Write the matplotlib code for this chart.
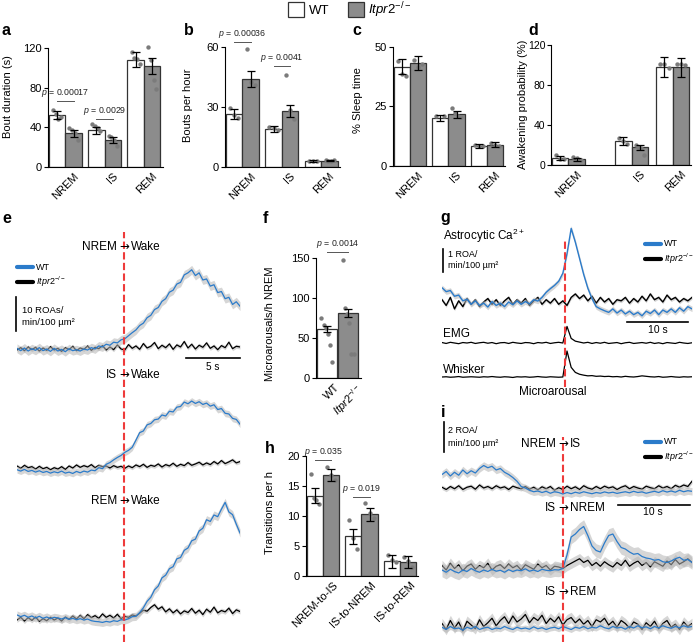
import numpy as np
import matplotlib
matplotlib.use('Agg')
import matplotlib.pyplot as plt
from matplotlib.patches import Rectangle
from matplotlib.lines import Line2D

plt.rcParams['font.family'] = ['Liberation Sans', 'DejaVu Sans']
plt.rcParams['mathtext.fontset'] = 'custom'
plt.rcParams['mathtext.rm'] = 'Liberation Sans'
plt.rcParams['mathtext.it'] = 'Liberation Sans:italic'
plt.rcParams['mathtext.bf'] = 'Liberation Sans:bold'
plt.rcParams['axes.linewidth'] = 0.8

# ======================= DATA =======================
KO_LABEL = r'$\mathit{Itpr2}^{-/-}$'
stages = ['NREM', 'IS', 'REM']
transitions = ['NREM-to-IS', 'IS-to-NREM', 'IS-to-REM']
genotypes = ['WT', KO_LABEL]

# a: bout duration (s)
a_wt = [52, 37, 108]
a_wt_err = [4, 3.5, 7.5]
a_ko = [34, 27, 102]
a_ko_err = [3.5, 3, 8]
a_wt_dots = [[57.5, 53, 48, 50], [43, 41, 39, 36], [116, 110, 109, 104]]
a_ko_dots = [[39.6, 37, 34, 27], [31, 30, 27, 21], [121, 108, 88, 79]]

# b: bouts per hour
b_wt = [26.5, 19, 3]
b_wt_err = [2.5, 1.5, 0.5]
b_ko = [44, 28, 3.2]
b_ko_err = [3.8, 3, 0.4]
b_wt_dots = [[29.3, 26, 24.3], [20, 19.5, 18.5], [3.2, 3.0, 2.8]]
b_ko_dots = [[58.8, 42.6, 41], [45.8, 28.5, 24], [3.4, 3.2, 3.0, 3.3]]

# c: % sleep time
c_wt = [41.8, 20.3, 8.5]
c_wt_err = [3.2, 1.3, 0.8]
c_ko = [43.2, 21.7, 9.0]
c_ko_err = [3.0, 1.5, 0.9]
c_wt_dots = [[44, 38.5, 38], [21, 20.8], [9, 8.5, 8.3]]
c_ko_dots = [[44.5, 41.5, 43], [24.5, 22.3, 21, 20.5], [9.8, 9, 8.5]]

# d: awakening probability (%)
d_wt = [7, 24, 98]
d_wt_err = [2, 4, 10]
d_ko = [6, 18, 98]
d_ko_err = [1.5, 2.5, 9.5]
d_wt_dots = [[10, 6.5, 6], [27, 24, 21], [101, 101, 97]]
d_ko_dots = [[8, 7, 5.5], [20, 18, 17, 10], [101, 101, 100]]

# f: microarousals / h NREM
f_vals = [61, 81]
f_err = [4, 5]
f_dots = [[75, 66, 62, 55, 41, 20], [148, 88, 80, 69, 30, 30]]

# h: transitions per h
h_wt = [13.4, 6.6, 2.45]
h_wt_err = [1.2, 1.2, 1.1]
h_ko = [16.8, 10.3, 2.3]
h_ko_err = [1.0, 1.1, 1.0]
h_wt_dots = [[17, 13, 12.7, 12], [9.3, 6.3, 4.5], [3.5, 2.7, 2.4]]
h_ko_dots = [[18.2, 16.8, 16], [12.2, 10.5, 9.7], [3.2, 2.5, 1.5]]

# p-values: (group, y of line, text)
a_p = [(0, 66.5, '0.00017'), (1, 48.4, '0.0029')]
b_p = [(0, 62.6, '0.00036'), (1, 50.5, '0.0041')]
f_p = [(0, 157.5, '0.0014')]
h_p = [(0, 19.3, '0.035'), (1, 13.2, '0.019')]

# e: ROAs/min/100 um^2 relative to pre-transition baseline, time -9.9..10.7 s
e_nrem_wt = [0.2, -0.5, 0.3, -0.6, 0.1, -0.4, 0.4, -0.5, 0.0, -0.7, 0.2, -0.6, -0.1, -0.8, 0.1, -0.5, -0.2, -0.6, 0.0, -0.3,
             0.4, 0.0, 0.9, 0.6, 1.4, 1.1, 2.0, 1.8, 2.7, 3.0,
             3.9, 4.8, 5.6, 6.9, 7.6, 9.2, 9.9, 11.6, 12.2, 14.0, 14.8, 16.7, 17.3, 19.1, 19.6, 21.8, 22.4, 23.3, 21.6, 22.4,
             20.3, 20.6, 18.5, 18.9, 16.6, 16.9, 14.8, 15.2, 13.1, 13.9, 12.6]
e_nrem_ko = [-0.3, 0.4, -0.5, 0.6, -0.2, 0.5, -0.6, 0.3, -0.4, 0.7, -0.3, 0.2, -0.7, 0.4, -0.2, 0.8, -0.5, 0.3, -0.1, 0.9,
             -0.4, 0.5, 0.1, 1.0, -0.3, 0.6, -0.2, 1.2, 0.0, -0.3, 1.3, 0.2, 0.9, -0.1, 1.6, 0.3, 0.8, 1.9, 0.1, 1.1,
             0.4, 1.5, -0.1, 1.2, 0.6, 2.2, 0.3, 1.4, 0.0, 1.1, 0.5, 1.8, 0.2, 0.9, -0.2, 1.0, 0.4, 2.0, 0.1, 0.8, 0.6]
e_is_wt = [-0.8, -1.2, -0.7, -1.3, -1.0, -1.5, -1.1, -1.6, -1.3, -1.8, -1.4, -1.7, -1.2, -1.8, -1.5, -1.9, -1.3, -1.7, -1.2, -1.5,
           -0.9, -1.1, -0.2, -0.5, 0.8, 1.3, 2.1, 2.8, 3.4, 4.3,
           4.9, 5.8, 7.9, 10.1, 10.6, 12.4, 12.8, 13.9, 14.1, 15.3, 15.0, 16.4, 16.2, 17.6, 17.8, 19.1, 18.6, 19.4, 18.7, 19.2,
           18.4, 18.8, 17.9, 18.3, 16.9, 17.2, 15.8, 15.6, 14.3, 14.0, 12.6]
e_is_ko = [0.3, -0.4, 0.5, -0.2, 0.1, -0.6, 0.2, -0.5, -0.1, -0.8, -0.2, -0.6, 0.1, -0.7, 0.3, -0.3, 0.6, -0.1, 0.4, 0.0,
           0.7, -0.2, 0.5, 0.1, 0.3, -0.3, 0.4, -0.1, 0.2, -0.4, 0.3, -0.2, 0.6, 0.1, 0.8, -0.1, 0.5, 0.2, 0.9, 0.0,
           0.7, 0.3, 1.1, 0.2, 0.8, 0.4, 1.3, 0.5, 0.9, 1.4, 0.6, 1.2, 0.7, 1.6, 0.9, 1.9, 1.0, 1.5, 2.1, 1.2, 1.6]
e_rem_wt = [0.9, 0.4, 0.8, 0.2, 0.6, 0.0, 0.5, -0.1, 0.3, -0.2, 0.2, 0.0, -0.3, 0.1, -0.4, -0.1, -0.5, -0.2, -0.6, -0.3,
            -0.8, -1.0, -1.1, -1.3, -1.0, -1.2, -0.8, -1.0, -0.5, -0.6,
            -0.2, 0.4, 0.5, 1.6, 3.0, 4.9, 6.1, 8.3, 9.4, 11.8, 12.6, 14.5, 15.1, 17.4, 17.8, 19.9, 20.6, 22.7, 23.2, 25.6,
            26.4, 28.9, 28.4, 30.3, 29.8, 32.0, 34.0, 31.2, 30.4, 27.6, 25.0]
e_rem_ko = [-0.6, 0.2, -0.9, 0.1, -0.7, 0.3, -1.0, -0.2, -0.8, 0.2, -0.6, 0.0, -0.9, 0.3, -0.4, 0.6, -0.3, 0.8, -0.2, 1.0,
            0.1, 0.7, -0.1, 1.2, 0.2, 0.8, 0.0, 1.1, -0.2, 0.5,
            0.2, 0.9, 0.6, 1.4, 2.3, 2.0, 3.1, 3.9, 2.6, 3.3, 1.8, 2.7, 1.5, 2.4, 1.2, 2.1, 1.6, 2.8, 1.4, 2.3,
            1.0, 2.6, 1.7, 3.2, 1.5, 2.2, 1.8, 2.9, 1.3, 2.4, 1.9]
e_sem = {'wt': [1.3, 1.0, 1.2], 'ko': [0.6, 0.6, 0.7]}

# g: microarousal-triggered traces, time -20.2..20.8 s
g_ca_wt = [0.62, 0.45, 0.5, 0.25, 0.3, 0.05, 0.12, -0.1, 0.05, -0.15, -0.05, -0.22, 0.02, -0.15, -0.05, -0.2, 0.0, -0.12, 0.05, -0.1,
           0.02, -0.08, 0.1, 0.04, 0.2, 0.42, 0.58, 0.72, 0.9, 1.25, 2.1, 3.2, 2.6, 1.9, 1.2, 0.6, 0.15, -0.2, -0.3, -0.38,
           -0.45, -0.3, -0.48, -0.35, -0.52, -0.4, -0.55, -0.45, -0.6, -0.4, -0.5, -0.35, -0.55, -0.35, -0.45, -0.3, -0.45, -0.25, -0.4, -0.2, -0.3]
g_ca_ko = [0.1, -0.15, 0.2, -0.3, 0.05, -0.2, 0.15, -0.1, 0.1, -0.2, 0.0, 0.15, -0.1, 0.1, -0.15, 0.05, 0.2, -0.1, 0.1, -0.05,
           0.15, -0.15, 0.05, 0.2, -0.1, 0.1, -0.05, 0.15, -0.1, 0.05, -0.15, 0.2, 0.35, 0.15, 0.3, 0.05, 0.25, -0.05, 0.2, 0.0,
           0.15, -0.1, 0.1, 0.05, 0.2, -0.05, 0.15, 0.0, 0.25, 0.05, 0.35, 0.1, 0.2, 0.0, 0.3, 0.1, 0.2, 0.0, 0.15, 0.05, 0.2]
g_emg = [0.02, -0.02, 0.03, 0.0, -0.03, 0.02, 0.0, 0.03, -0.02, 0.01, 0.03, -0.01, 0.02, -0.03, 0.01, 0.02, -0.02, 0.03, 0.0, -0.02,
         0.02, 0.01, -0.03, 0.02, 0.0, 0.03, -0.02, 0.01, 0.03, 0.0, 0.72, 0.2, 0.08, 0.04, 0.0, 0.03, -0.02, 0.02, -0.01, 0.03,
         -0.02, 0.0, 0.02, -0.03, 0.01, 0.03, -0.02, 0.0, 0.02, -0.01, 0.03, -0.02, 0.01, -0.03, 0.02, 0.0, -0.02, 0.03, 0.0, -0.02, 0.01]
g_whisker = [0.0, 0.01, -0.01, 0.0, 0.02, -0.01, 0.0, 0.01, 0.0, -0.01, 0.01, 0.0, 0.02, 0.0, -0.01, 0.01, 0.0, -0.02, 0.01, 0.0,
             0.01, -0.01, 0.0, 0.02, 0.0, -0.01, 0.01, 0.0, -0.01, 0.0, 1.13, 0.42, 0.2, 0.12, 0.08, 0.05, 0.06, 0.03, 0.04, 0.02,
             0.03, 0.01, 0.02, 0.0, 0.03, 0.01, 0.0, 0.02, 0.05, 0.03, 0.01, 0.0, 0.02, -0.01, 0.0, 0.02, 0.0, -0.01, 0.01, 0.0, 0.01]
g_sem = {'wt': 0.12, 'ko': 0.08}

# i: sleep-state transition traces, time -16.8..17.9 s
i_nrem_is_wt = [0.9, 1.1, 0.8, 1.05, 0.85, 1.2, 0.95, 1.15, 1.0, 1.3, 1.5, 1.35, 1.45, 1.2, 1.3, 1.05, 0.9, 0.7, 0.45, 0.1,
                0.0, -0.15, -0.25, -0.2, -0.3, -0.22, -0.35, -0.25, -0.3, -0.4, -0.3, -0.38, -0.28, -0.35, -0.25, -0.32, -0.38, -0.3, -0.35, -0.26,
                -0.33, -0.28, -0.36, -0.3, -0.25, -0.32, -0.22, -0.3, -0.26, -0.35, -0.28, -0.22, -0.3, -0.18, -0.27, -0.2, -0.28, -0.15, -0.25, -0.18, -0.22]
i_nrem_is_ko = [0.05, -0.1, 0.1, -0.05, 0.15, -0.1, 0.05, 0.12, -0.08, 0.2, 0.0, 0.1, -0.05, 0.15, 0.0, 0.08, -0.1, 0.12, 0.02, -0.05,
                0.1, -0.08, 0.05, -0.12, 0.08, -0.05, 0.1, -0.15, 0.02, -0.1, 0.12, -0.05, 0.08, -0.1, 0.15, 0.0, -0.08, 0.1, -0.05, 0.12,
                0.0, 0.08, -0.1, 0.05, 0.15, -0.05, 0.1, 0.0, -0.08, 0.12, 0.02, -0.05, 0.15, 0.0, 0.1, -0.05, 0.18, 0.05, 0.2, 0.1, 0.45]
i_is_nrem_wt = [-0.2, -0.35, -0.15, -0.3, -0.4, -0.2, -0.3, -0.1, -0.25, -0.35, -0.2, -0.3, -0.15, -0.28, -0.22, -0.35, -0.18, -0.3, -0.2, -0.25,
                -0.12, -0.28, -0.2, -0.3, -0.15, -0.22, -0.25, -0.18, -0.2,
                -0.1, 0.8, 2.0, 2.2, 2.5, 2.7, 2.1, 1.4, 1.1, 1.0, 1.6, 2.1, 2.2, 1.7, 1.3, 1.2, 1.0, 0.85, 0.9, 0.7,
                0.6, 0.55, 0.45, 0.5, 0.35, 0.3, 0.4, 0.55, 0.65, 0.45, 0.5, 0.3]
i_is_nrem_ko = [0.1, -0.2, 0.25, -0.1, 0.15, -0.25, 0.05, 0.2, -0.15, 0.1, -0.05, 0.25, -0.2, 0.05, 0.15, -0.1, 0.2, -0.05, 0.1, -0.2,
                0.15, 0.0, -0.15, 0.2, -0.05, 0.1, -0.2, 0.05, 0.0, -0.1, 0.1, 0.25, 0.4, 0.55, 0.3, 0.45, 0.1, 0.3, 0.05, 0.35,
                0.15, 0.0, 0.3, 0.1, 0.45, 0.05, 0.25, 0.4, 0.1, 0.3, 0.0, 0.35, 0.2, 0.05, 0.4, 0.15, 0.5, 0.2, 0.35, 0.55, 0.3]
i_is_rem_wt = [-0.15, -0.3, -0.1, -0.25, -0.2, -0.35, -0.15, -0.25, -0.1, -0.3, -0.2, -0.15, -0.3, -0.2, -0.25, -0.1, -0.22, -0.3, -0.15, -0.25,
               -0.2, -0.28, -0.12, -0.25, -0.18, -0.3, -0.2, -0.15, -0.25, -0.1, -0.2, -0.3, -0.15, -0.22, -0.1, -0.25, -0.15, -0.2, -0.05, -0.18,
               -0.25, -0.1, -0.2, -0.15, -0.28, -0.1, -0.2, -0.05, -0.18, -0.12, -0.25, -0.1, -0.2, -0.05, -0.15, -0.22, -0.1, -0.18, -0.05, -0.15, -0.1]
i_is_rem_ko = [0.1, -0.3, 0.3, -0.2, 0.2, -0.4, 0.25, 0.0, -0.25, 0.35, -0.1, 0.15, 0.45, -0.05, 0.3, 0.55, 0.1, 0.6, 0.2, 0.4,
               0.7, 0.15, 0.5, 0.3, 0.65, 0.1, 0.45, 0.2, 0.55, 0.0, 0.35, 0.5, 0.15, 0.4, 0.05, 0.3, -0.1, 0.35, 0.2, 0.45,
               0.0, 0.25, -0.15, 0.3, 0.1, -0.2, 0.2, 0.05, -0.3, 0.15, -0.1, 0.25, -0.25, 0.1, 0.3, -0.15, 0.05, -0.3, 0.2, -0.1, 0.1]
i_sem = {'wt': [0.25, 0.45, 0.2], 'ko': [0.15, 0.35, 0.35]}

# ======================= STYLE / LAYOUT =======================
W, H = 697, 642
BLUE = '#2b7bca'
RED = '#ee3b3b'
GRAY = '#8c8c8c'
EDGE = '#333333'
DOT = '#7b7b7b'
BAND = '#b5b5b5'

fig = plt.figure(figsize=(W / 100, H / 100), dpi=100)


def px_axes(x0, y0, x1, y1):
    return fig.add_axes([x0 / W, 1 - y1 / H, (x1 - x0) / W, (y1 - y0) / H])


def ftext(x, y, s, **kw):
    kw.setdefault('va', 'baseline')
    return fig.text(x / W, 1 - y / H, s, **kw)


def fline(xs, ys, **kw):
    fig.add_artist(Line2D([x / W for x in xs], [1 - y / H for y in ys], transform=fig.transFigure, **kw))


def bar_panel(x0, ytop, ybot, pxu, centers, xlim, bw, wt, wt_err, ko, ko_err, wt_dots, ko_dots,
              ylim, yticks, xlabels, pvals=(), tick_shift=0.2, ytick_size=8, ytick_pad=1.5):
    x1 = x0 + (xlim[1] - xlim[0]) * pxu
    ax = px_axes(x0, ytop, x1, ybot)
    c = np.asarray(centers, float)
    xw, xk = c - bw / 2, c + bw / 2
    ax.bar(xw, wt, bw, color='white', edgecolor=EDGE, linewidth=0.9, zorder=1)
    ax.bar(xk, ko, bw, color=GRAY, edgecolor=EDGE, linewidth=0.9, zorder=1)
    for xs, dots in ((xw, wt_dots), (xk, ko_dots)):
        for x, d in zip(xs, dots):
            off = np.linspace(-0.25, 0.25, len(d)) * bw
            ax.scatter(x + off, d, s=10, color=DOT, zorder=2, linewidths=0, clip_on=False)
    for xs, v, e in ((xw, wt, wt_err), (xk, ko, ko_err)):
        ax.errorbar(xs, v, yerr=e, fmt='none', ecolor='black', elinewidth=0.9, capsize=3, capthick=0.9, zorder=3)
    for g, yl, txt in pvals:
        ax.plot([xw[g], xk[g]], [yl, yl], color='#555555', lw=0.7, clip_on=False)
        ax.annotate(r'$p$ = ' + txt, (c[g], yl), xytext=(0, 1.5), textcoords='offset points',
                    ha='center', va='bottom', fontsize=6.3, color='#222222', annotation_clip=False)
    ax.set_xlim(xlim)
    ax.set_ylim(ylim)
    ax.set_yticks(yticks)
    ax.set_xticks(c + tick_shift)
    ax.set_xticklabels(xlabels, rotation=45, ha='right', rotation_mode='anchor')
    for s in ('top', 'right'):
        ax.spines[s].set_visible(False)
    ax.tick_params(axis='y', direction='out', length=3, width=0.8, labelsize=ytick_size, pad=ytick_pad)
    ax.tick_params(axis='x', length=0, labelsize=8, pad=3)
    return ax


# ---------- top legend ----------
fig.add_artist(Rectangle((288 / W, 1 - 17 / H), 16 / W, 15 / H, transform=fig.transFigure,
                         facecolor='white', edgecolor=EDGE, lw=0.9))
ftext(309, 14, 'WT', fontsize=9.5)
fig.add_artist(Rectangle((348 / W, 1 - 17 / H), 16 / W, 15 / H, transform=fig.transFigure,
                         facecolor=GRAY, edgecolor=EDGE, lw=0.9))
ftext(368, 14, KO_LABEL, fontsize=9.5)

# ---------- a-d ----------
bar_panel(48, 48, 167, 39.3, [0, 1, 2], (-0.44, 2.48), 0.42, a_wt, a_wt_err, a_ko, a_ko_err,
          a_wt_dots, a_ko_dots, (0, 120), [0, 40, 80, 120], stages, a_p)
bar_panel(225, 47, 167, 39.5, [0, 1, 2], (-0.44, 2.48), 0.42, b_wt, b_wt_err, b_ko, b_ko_err,
          b_wt_dots, b_ko_dots, (0, 60), [0, 30, 60], stages, b_p)
bar_panel(393, 47, 166, 38.5, [0, 1, 2], (-0.44, 2.48), 0.42, c_wt, c_wt_err, c_ko, c_ko_err,
          c_wt_dots, c_ko_dots, (0, 50), [0, 25, 50], stages)
bar_panel(551, 45, 165, 39.5, [0, 1.6, 2.64], (-0.44, 3.1), 0.42, d_wt, d_wt_err, d_ko, d_ko_err,
          d_wt_dots, d_ko_dots, (0, 120), [0, 40, 80, 120], stages, ytick_size=7.5, ytick_pad=1)

ftext(8, 97, 'Bout duration (s)', rotation=90, ha='center', va='center', fontsize=8)
ftext(188, 105, 'Bouts per hour', rotation=90, ha='center', va='center', fontsize=8)
ftext(358, 100, '% Sleep time', rotation=90, ha='center', va='center', fontsize=8)
ftext(523, 104, 'Awakening probability (%)', rotation=90, ha='center', va='center', fontsize=8)

# ---------- f ----------
axf = px_axes(316, 258, 361, 378)
axf.bar([0, 1], f_vals, 0.95, color=['white', GRAY], edgecolor=EDGE, linewidth=0.9, zorder=1)
for x, d in zip([0, 1], f_dots):
    axf.scatter(x + np.linspace(-0.25, 0.25, len(d)), d, s=10, color=DOT, zorder=2, linewidths=0, clip_on=False)
axf.errorbar([0, 1], f_vals, yerr=f_err, fmt='none', ecolor='black', elinewidth=0.9, capsize=3, capthick=0.9, zorder=3)
for g, yl, txt in f_p:
    axf.plot([0, 1], [yl, yl], color='#555555', lw=0.7, clip_on=False)
    axf.annotate(r'$p$ = ' + txt, (0.5, yl), xytext=(0, 1.5), textcoords='offset points',
                 ha='center', va='bottom', fontsize=6.3, color='#222222', annotation_clip=False)
axf.set_xlim(-0.5, 1.6)
axf.set_ylim(0, 150)
axf.set_yticks([0, 50, 100, 150])
axf.set_xticks([0.35, 1.35])
axf.set_xticklabels(genotypes, rotation=45, ha='right', rotation_mode='anchor')
for s in ('top', 'right'):
    axf.spines[s].set_visible(False)
axf.tick_params(axis='y', direction='out', length=3, width=0.8, labelsize=8, pad=1.5)
axf.tick_params(axis='x', length=0, labelsize=8, pad=3)
ftext(270, 324, 'Microarousals/h NREM', rotation=90, ha='center', va='center', fontsize=8)

# ---------- h ----------
bar_panel(306, 456, 576, 38.5, [0, 1, 2], (-0.44, 2.48), 0.42, h_wt, h_wt_err, h_ko, h_ko_err,
          h_wt_dots, h_ko_dots, (0, 20), [0, 5, 10, 15, 20], transitions, h_p, tick_shift=0.25)
ftext(270, 512, 'Transitions per h', rotation=90, ha='center', va='center', fontsize=8)


# ---------- trace helpers ----------
def trace_axes(x0, x1, y0, y1, t0, t1, ppu, base):
    ax = px_axes(x0, y0, x1, y1)
    ax.set_xlim(t0, t1)
    ax.set_ylim((base - y1) / ppu, (base - y0) / ppu)
    ax.axis('off')
    tx = lambda px: t0 + (px - x0) * (t1 - t0) / (x1 - x0)
    ty = lambda py: (base - py) / ppu
    return ax, tx, ty


def draw_trace(ax, t0, t1, vals, offset, color, sem, lw=0.9, z=2):
    v = np.asarray(vals, float)
    t = np.linspace(t0, t1, len(v))
    if sem:
        ax.fill_between(t, offset + v - sem, offset + v + sem, color=BAND, alpha=0.55, lw=0, zorder=z - 1)
    ax.plot(t, offset + v, color=color, lw=lw, zorder=z)


def trans_label(xr, y, left, right, size=8.5):
    ftext(xr - 7, y, left, ha='right', fontsize=size)
    ftext(xr, y, '→', ha='center', fontsize=size, family='DejaVu Sans')
    ftext(xr + 7, y, right, ha='left', fontsize=size)


def mini_legend(x, y1, y2, size=6.5):
    fline([x, x + 16], [y1, y1], color=BLUE, lw=3, solid_capstyle='round')
    ftext(x + 19, y1, 'WT', va='center', fontsize=size)
    fline([x, x + 16], [y2, y2], color='black', lw=3, solid_capstyle='round')
    ftext(x + 19, y2, KO_LABEL, va='center', fontsize=size)


# ---------- e ----------
E_T0, E_T1 = -9.9, 10.7
axe, etx, ety = trace_axes(17, 240, 225, 642, E_T0, E_T1, 3.4, 642)
e_base = [349, 467, 618]
for k, (wt, ko) in enumerate([(e_nrem_wt, e_nrem_ko), (e_is_wt, e_is_ko), (e_rem_wt, e_rem_ko)]):
    off = ety(e_base[k])
    draw_trace(axe, E_T0, E_T1, ko, off, 'black', e_sem['ko'][k], z=3)
    draw_trace(axe, E_T0, E_T1, wt, off, BLUE, e_sem['wt'][k], z=4)
axe.plot([0, 0], [ety(642), ety(232)], color=RED, lw=1.5, ls=(0, (3.5, 1.6)), zorder=6, clip_on=False)
axe.plot([etx(16)] * 2, [ety(331), ety(331) + 10], color='black', lw=1.2, clip_on=False)
axe.plot([E_T1 - 5, E_T1], [ety(358)] * 2, color='black', lw=1.2, clip_on=False)
ftext(213, 370, '5 s', ha='center', fontsize=7.2)
ftext(22, 313, '10 ROAs/', fontsize=6.8)
ftext(22, 325, 'min/100 µm²', fontsize=6.8)
mini_legend(17, 267, 282)
trans_label(124, 250, 'NREM', 'Wake')
trans_label(124, 378, 'IS', 'Wake')
trans_label(124, 504, 'REM', 'Wake')

# ---------- g ----------
G_T0, G_T1 = -20.2, 20.8
axg, gtx, gty = trace_axes(442, 692, 225, 395, G_T0, G_T1, 23, 302)
draw_trace(axg, G_T0, G_T1, g_ca_ko, 0, 'black', g_sem['ko'], lw=1.0, z=3)
draw_trace(axg, G_T0, G_T1, g_ca_wt, 0, BLUE, g_sem['wt'], lw=1.0, z=4)
draw_trace(axg, G_T0, G_T1, g_emg, gty(343), 'black', 0, lw=0.9, z=3)
draw_trace(axg, G_T0, G_T1, g_whisker, gty(377), 'black', 0, lw=0.9, z=3)
axg.plot([0, 0], [gty(387), gty(240)], color=RED, lw=1.5, ls=(0, (3.5, 1.6)), zorder=6, clip_on=False)
axg.plot([gtx(443)] * 2, [gty(272), gty(272) + 1], color='black', lw=1.2, clip_on=False)
axg.plot([G_T1 - 10 - 0.7, G_T1 - 0.7], [gty(322)] * 2, color='black', lw=1.2, clip_on=False)
ftext(658, 333, '10 s', ha='center', fontsize=7.5)
ftext(443, 240, 'Astrocytic Ca$^{2+}$', fontsize=8.5)
ftext(448, 257, '1 ROA/', fontsize=6.5)
ftext(448, 268, 'min/100 µm²', fontsize=6.5)
ftext(443, 337, 'EMG', fontsize=8.5)
ftext(443, 373, 'Whisker', fontsize=8.5)
ftext(553, 395, 'Microarousal', ha='center', fontsize=8.5)
mini_legend(645, 244, 259)

# ---------- i ----------
I_T0, I_T1 = -16.8, 17.9
axi, itx, ity = trace_axes(442, 692, 420, 642, I_T0, I_T1, 15, 642)
i_base = [488, 567, 625]
for k, (wt, ko) in enumerate([(i_nrem_is_wt, i_nrem_is_ko), (i_is_nrem_wt, i_is_nrem_ko), (i_is_rem_wt, i_is_rem_ko)]):
    off = ity(i_base[k])
    draw_trace(axi, I_T0, I_T1, ko, off, 'black', i_sem['ko'][k], z=3)
    draw_trace(axi, I_T0, I_T1, wt, off, BLUE, i_sem['wt'][k], z=4)
axi.plot([0, 0], [ity(642), ity(437)], color=RED, lw=1.5, ls=(0, (3.5, 1.6)), zorder=6, clip_on=False)
axi.plot([itx(444)] * 2, [ity(452), ity(452) + 2], color='black', lw=1.2, clip_on=False)
axi.plot([I_T1 - 10 - 0.25, I_T1 - 0.25], [ity(505)] * 2, color='black', lw=1.2, clip_on=False)
ftext(653, 515, '10 s', ha='center', fontsize=7.5)
ftext(448, 433, '2 ROA/', fontsize=6.5)
ftext(448, 446, 'min/100 µm²', fontsize=6.5)
mini_legend(645, 442, 457)
trans_label(563, 447, 'NREM', 'IS')
trans_label(563, 511, 'IS', 'NREM')
trans_label(563, 595, 'IS', 'REM')

# ---------- panel letters ----------
for x, y, s in [(2, 35, 'a'), (184, 35, 'b'), (352, 35, 'c'), (528, 35, 'd'), (2, 223, 'e'), (263, 223, 'f'),
                (440, 222, 'g'), (265, 453, 'h'), (441, 417, 'i')]:
    ftext(x, y, s, fontsize=11.5, fontweight='bold')

fig.savefig('out.png', dpi=100)
